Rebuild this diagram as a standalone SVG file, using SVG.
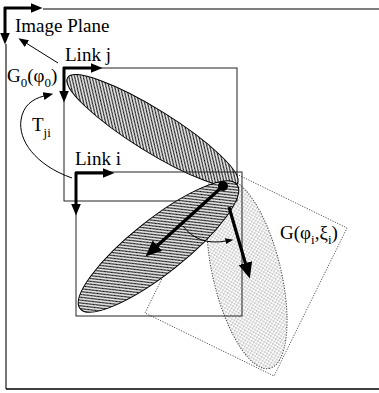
<svg xmlns="http://www.w3.org/2000/svg" width="379" height="393" viewBox="0 0 379 393">
<style>
.txt{font-family:"Liberation Serif","Times New Roman",serif;font-size:19px;fill:#000}
.sub{font-size:13px}
.box{fill:none;stroke:#222;stroke-width:1}
.axis{stroke:#000;stroke-width:3;fill:none}
.thin{stroke:#000;stroke-width:1;fill:none}
.big{stroke:#000;stroke-width:3.2;fill:none}
</style>
<defs>
<pattern id="hatch" patternUnits="userSpaceOnUse" width="4" height="4">
<rect width="4" height="4" fill="#fff"/>
<path d="M-1,3 L1,5 M0,0 L4,4 M3,-1 L5,1" stroke="#000" stroke-width="1.15"/>
</pattern>
<pattern id="stip" patternUnits="userSpaceOnUse" width="4" height="4">
<rect width="4" height="4" fill="#fff"/>
<circle cx="1" cy="1" r="0.6" fill="#333"/>
<circle cx="3" cy="3" r="0.6" fill="#333"/>
</pattern>
<marker id="axHead" viewBox="0 -6 13 12" markerWidth="13" markerHeight="12" refX="0.5" refY="0" orient="auto" markerUnits="userSpaceOnUse">
<path d="M0,-5 L12,0 L0,5 z" fill="#000"/>
</marker>
<marker id="bigHead" viewBox="0 -8 17 16" markerWidth="17" markerHeight="16" refX="0.5" refY="0" orient="auto" markerUnits="userSpaceOnUse">
<path d="M0,-7 L16,0 L0,7 z" fill="#000"/>
</marker>
<marker id="smHead" viewBox="0 -5 11 10" markerWidth="11" markerHeight="10" refX="0.5" refY="0" orient="auto" markerUnits="userSpaceOnUse">
<path d="M0,-4 L10,0 L0,4 z" fill="#000"/>
</marker>
<marker id="tinyHead" viewBox="0 -4 9 8" markerWidth="9" markerHeight="8" refX="0.5" refY="0" orient="auto" markerUnits="userSpaceOnUse">
<path d="M0,-3 L8,0 L0,3 z" fill="#000"/>
</marker>
</defs>

<g id="image-plane">
<path d="M43,9 H379 M6,44 V389" stroke="#555" stroke-width="1.6" fill="none"/>
<line x1="6" y1="389" x2="379" y2="389" stroke="#000" stroke-width="1.5"/>
<line class="axis" x1="4" y1="8" x2="31" y2="8" marker-end="url(#axHead)"/>
<line class="axis" x1="5" y1="7" x2="5" y2="33" marker-end="url(#axHead)"/>
<text class="txt" x="15" y="32">Image Plane</text>
</g>

<g id="g-phi-xi">
<polygon points="218,165 347,228 274,376 145,313" fill="none" stroke="#555" stroke-width="1" stroke-dasharray="1.2 1.4"/>
<ellipse cx="247" cy="274" rx="97" ry="34" transform="rotate(76.5 247 274)" fill="url(#stip)" stroke="#444" stroke-width="1" stroke-dasharray="1.2 1.4"/>
<text class="txt" x="280" y="239">G(φ<tspan class="sub" dy="5">i</tspan><tspan dy="-5">,ξ</tspan><tspan class="sub" dy="5">i</tspan><tspan dy="-5">)</tspan></text>
</g>

<g id="link-j">
<rect class="box" x="64" y="68" width="173" height="133"/>
<ellipse cx="152.5" cy="130.5" rx="100" ry="21" transform="rotate(31.9 152.5 130.5)" fill="url(#hatch)" stroke="#000" stroke-width="1"/>
<line class="axis" x1="63" y1="68" x2="91" y2="68" marker-end="url(#axHead)"/>
<line class="axis" x1="64" y1="67" x2="64" y2="91" marker-end="url(#axHead)"/>
<text class="txt" x="65" y="61">Link j</text>
</g>

<g id="link-i">
<rect class="box" x="76" y="172" width="166" height="144"/>
<ellipse cx="158.5" cy="246.5" rx="100" ry="27" transform="rotate(-38.4 158.5 246.5)" fill="url(#hatch)" stroke="#000" stroke-width="1"/>
<line class="axis" x1="75" y1="173" x2="103" y2="173" marker-end="url(#axHead)"/>
<line class="axis" x1="76" y1="172" x2="76" y2="204" marker-end="url(#axHead)"/>
<circle cx="223" cy="186" r="5" fill="#000"/>
<text class="txt" x="75" y="165">Link i</text>
</g>

<g id="g0">
<text class="txt" x="7" y="82">G<tspan class="sub" dy="5">0</tspan><tspan dy="-5">(φ</tspan><tspan class="sub" dy="5">0</tspan><tspan dy="-5">)</tspan></text>
</g>

<g id="tji">
<text class="txt" x="32" y="131">T<tspan class="sub" dy="6">ji</tspan></text>
</g>

<g id="connectors">
<line class="thin" x1="58" y1="63" x2="26.5" y2="43.3" marker-end="url(#smHead)"/>
<path class="thin" d="M72,178 C35,165 18,140 21,120 C23,106 32,99 44,96" marker-end="url(#smHead)"/>
<line class="big" x1="223" y1="186" x2="157" y2="246" marker-end="url(#bigHead)"/>
<line class="big" x1="229" y1="207" x2="245.5" y2="263.6" marker-end="url(#bigHead)"/>
<path class="thin" d="M183,226 Q198,246 226,241" marker-end="url(#tinyHead)"/>
</g>
</svg>
